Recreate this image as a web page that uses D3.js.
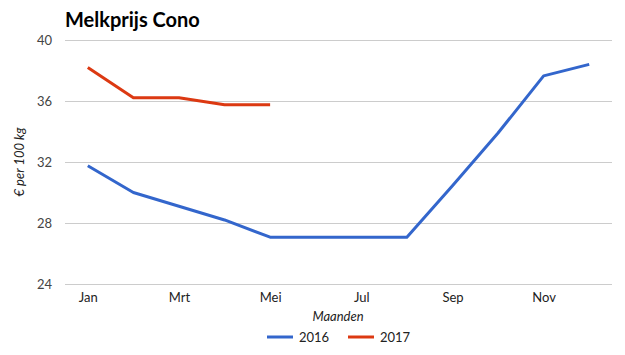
<!DOCTYPE html>
<html><head><meta charset="utf-8">
<script src="https://cdn.jsdelivr.net/npm/d3@7"></script>
<style>body{margin:0;background:#fff;} text{font-family:Lato, "Open Sans", sans-serif;}</style>
</head><body><svg id="c" width="625" height="355"></svg>
<script>
const months = ["Jan","Feb","Mrt","Apr","Mei","Jun","Jul","Aug","Sep","Okt","Nov","Dec"];
const tickMonths = ["Jan","Mrt","Mei","Jul","Sep","Nov"];
const yTicks = [24,28,32,36,40];
const seriesNames = ["2016","2017"];
const values2016 = [31.75,30.0,29.1,28.2,27.07,27.07,27.07,27.07,30.45,33.9,37.65,38.4];
const values2017 = [38.2,36.22,36.22,35.76,35.76];
const colors = ["#3366cc","#dc3912"];

const svg = d3.select("#c");
const L=65,R=612,T=40,B=284;
const x = d3.scalePoint().domain(months).range([L,R]).padding(0.5);
const y = d3.scaleLinear().domain([24,40]).range([B,T]);

svg.append("text").attr("x",65).attr("y",27).attr("font-size",20).attr("font-weight","bold").attr("fill","#000").text("Melkprijs Cono");

const gy = svg.append("g").attr("transform",`translate(${L},0)`)
  .call(d3.axisLeft(y).tickValues(yTicks).tickSize(-(R-L)).tickFormat(d3.format("d")));
gy.select(".domain").remove();
gy.selectAll(".tick line").attr("stroke","#cccccc");
gy.selectAll(".tick text").attr("x",-13).attr("font-size",13).attr("fill","#444").attr("font-family","Lato");

const gx = svg.append("g").attr("transform",`translate(0,${B})`)
  .call(d3.axisBottom(x).tickValues(tickMonths).tickSize(0).tickPadding(9));
gx.select(".domain").remove();
gx.selectAll(".tick text").attr("font-size",13).attr("fill","#222").attr("font-family","Lato");

const line = d3.line().x((d,i)=>x(months[i])).y(d=>y(d));
[values2016,values2017].forEach((vals,k)=>{
  svg.append("path").datum(vals).attr("d",line).attr("fill","none")
    .attr("stroke",colors[k]).attr("stroke-width",3).attr("stroke-linejoin","round");
});

svg.append("text").attr("x",338).attr("y",321).attr("text-anchor","middle").attr("font-size",13).attr("font-style","italic").attr("fill","#222").text("Maanden");
svg.append("text").attr("transform","translate(24,162) rotate(-90)").attr("text-anchor","middle").attr("font-size",13).attr("font-style","italic").attr("fill","#222").text("€ per 100 kg");

const legX=[267,348];
seriesNames.forEach((n,k)=>{
  svg.append("line").attr("x1",legX[k]).attr("x2",legX[k]+26).attr("y1",337).attr("y2",337).attr("stroke",colors[k]).attr("stroke-width",3);
  svg.append("text").attr("x",legX[k]+32).attr("y",341.5).attr("font-size",13).attr("fill","#222").text(n);
});
</script></body></html>
